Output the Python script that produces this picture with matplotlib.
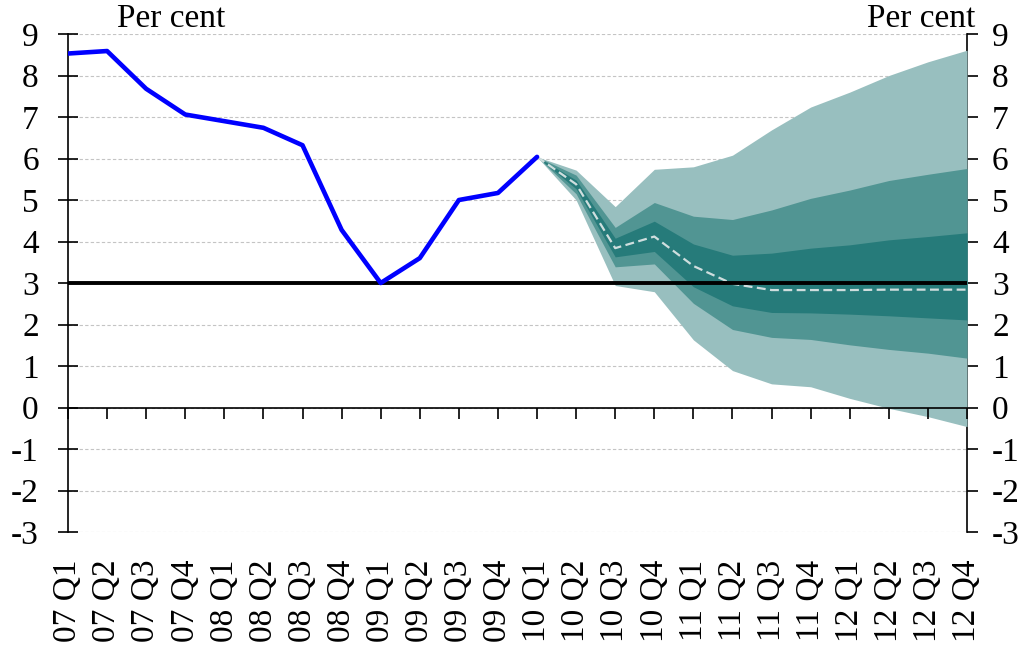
import numpy as np
import matplotlib
matplotlib.use('agg')
from matplotlib import pyplot as plt

plt.rcParams['font.family'] = ['Liberation Serif', 'DejaVu Serif']
plt.rcParams['font.size'] = 24
plt.rcParams['axes.unicode_minus'] = False

quarters = ["07 Q1", "07 Q2", "07 Q3", "07 Q4", "08 Q1", "08 Q2", "08 Q3", "08 Q4",
            "09 Q1", "09 Q2", "09 Q3", "09 Q4", "10 Q1", "10 Q2", "10 Q3", "10 Q4",
            "11 Q1", "11 Q2", "11 Q3", "11 Q4", "12 Q1", "12 Q2", "12 Q3", "12 Q4"]

# outturn, 07 Q1 - 10 Q1
actual = [8.53, 8.59, 7.68, 7.06, 6.9, 6.74, 6.32, 4.28, 3.0, 3.6, 5.0, 5.17, 6.04]

# projection, 10 Q1 - 12 Q4
outer_hi = [6.04, 5.72, 4.84, 5.74, 5.80, 6.08, 6.69, 7.24, 7.60, 8.00, 8.33, 8.61]
mid_hi   = [6.04, 5.60, 4.34, 4.94, 4.61, 4.53, 4.76, 5.04, 5.24, 5.47, 5.62, 5.76]
inner_hi = [6.04, 5.48, 4.08, 4.49, 3.94, 3.67, 3.72, 3.84, 3.92, 4.04, 4.12, 4.21]
median   = [6.04, 5.38, 3.84, 4.12, 3.41, 2.98, 2.83, 2.83, 2.83, 2.84, 2.84, 2.84]
inner_lo = [6.04, 5.27, 3.63, 3.76, 2.91, 2.45, 2.29, 2.28, 2.25, 2.21, 2.16, 2.11]
mid_lo   = [6.04, 5.15, 3.39, 3.46, 2.51, 1.88, 1.69, 1.64, 1.51, 1.40, 1.31, 1.19]
outer_lo = [6.04, 5.00, 2.94, 2.79, 1.63, 0.89, 0.57, 0.50, 0.22, -0.02, -0.22, -0.46]

target = 3

fig = plt.figure(figsize=(10.27, 6.48), dpi=100)
ax = fig.add_axes([0.0662, 0.179, 0.8754, 0.7685])

x = np.arange(len(quarters))
xa = x[:len(actual)]
xf = x[len(actual) - 1:]

for y in range(-3, 10):
    ax.axhline(y, color='#c4c4c4', lw=0.8, ls=(0, (3, 2)), zorder=0)

ax.fill_between(xf, outer_lo, outer_hi, color='#98bfbf', lw=0, zorder=1)
ax.fill_between(xf, mid_lo, mid_hi, color='#519593', lw=0, zorder=2)
ax.fill_between(xf, inner_lo, inner_hi, color='#267b7a', lw=0, zorder=3)
ax.plot(xf, median, color='#cfdede', lw=1.6, ls=(0, (4, 2)), zorder=4)

ax.axhline(target, color='black', lw=2.8, zorder=5)
ax.plot(xa, actual, color='#0000ff', lw=3.3, zorder=6, solid_capstyle='round')

ax.set_xlim(0, 23)
ax.set_ylim(-3, 9)
ax.set_yticks(range(-3, 10))

ax.spines['top'].set_visible(False)
ax.spines['right'].set_visible(False)
ax.spines['bottom'].set_position(('data', 0))
ax.spines['left'].set_linewidth(1.2)
ax.spines['bottom'].set_linewidth(1.2)

ax.set_xticks(x)
ax.tick_params(axis='x', direction='out', length=8, width=1.2, labelbottom=False)
ax.tick_params(axis='y', direction='inout', length=14, width=1.2, pad=14)

right = ax.secondary_yaxis('right')
right.set_yticks(range(-3, 10))
right.spines['right'].set_linewidth(1.2)
right.tick_params(direction='out', length=8, width=1.2, pad=10)

bottom = ax.secondary_xaxis('bottom')
bottom.spines['bottom'].set_visible(False)
bottom.set_xticks(x)
bottom.set_xticklabels(quarters, rotation=90)
bottom.tick_params(length=0, pad=20)

ax.text(0.115, 1.0, "Per cent", transform=ax.transAxes, ha='center', va='bottom')
ax.text(1.009, 1.0, "Per cent", transform=ax.transAxes, ha='right', va='bottom')

fig.savefig("out.png", dpi=100)
